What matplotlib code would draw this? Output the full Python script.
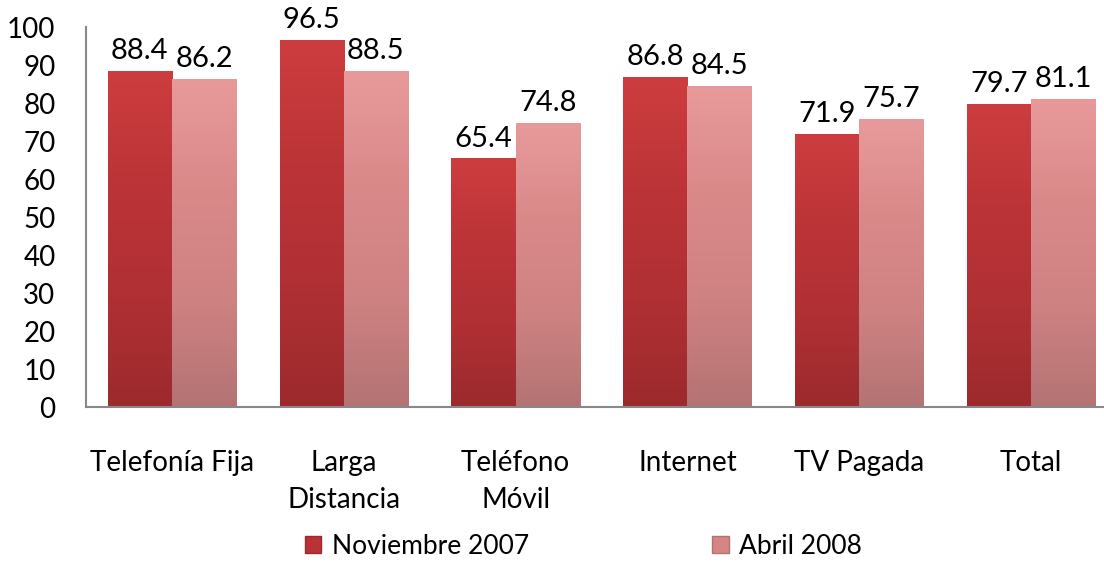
import matplotlib
matplotlib.use("Agg")
import matplotlib.pyplot as plt
import numpy as np
from matplotlib.colors import LinearSegmentedColormap
from matplotlib.patches import Patch

categories = ["Telefonía Fija", "Larga\nDistancia", "Teléfono\nMóvil", "Internet", "TV Pagada", "Total"]
nov_2007 = [88.4, 96.5, 65.4, 86.8, 71.9, 79.7]
abr_2008 = [86.2, 88.5, 74.8, 84.5, 75.7, 81.1]
series_names = ["Noviembre 2007", "Abril 2008"]
yticks = [0, 10, 20, 30, 40, 50, 60, 70, 80, 90, 100]

plt.rcParams['font.family'] = ['Lato', 'DejaVu Sans']

fig = plt.figure(figsize=(11.04, 5.76), dpi=100)
ax = fig.add_axes([86/1104, 1 - 407/576, (1117-86)/1104, (407-27)/576])

x = np.arange(len(categories))
w = 0.373
dark_cmap = LinearSegmentedColormap.from_list("d", ["#CD3D3F", "#BC3437", "#B03034", "#9C2A2D"])
light_cmap = LinearSegmentedColormap.from_list("l", ["#E89A9A", "#DA8989", "#CF8282", "#B47373"])

bars1 = ax.bar(x - w/2, nov_2007, w, color="#B83236", edgecolor="none", label=series_names[0])
bars2 = ax.bar(x + w/2, abr_2008, w, color="#D68585", edgecolor="none", label=series_names[1])

grad = np.linspace(0, 1, 256).reshape(-1, 1)
for bars, cmap in ((bars1, dark_cmap), (bars2, light_cmap)):
    for b in bars:
        x0, y0 = b.get_x(), b.get_y()
        bw, bh = b.get_width(), b.get_height()
        im = ax.imshow(grad, cmap=cmap, aspect="auto",
                       extent=[x0, x0 + bw, y0, y0 + bh], origin="upper", zorder=2)
        im.set_clip_path(b)
    for b in bars:
        ax.annotate(f"{b.get_height():.1f}", (b.get_x() + b.get_width()/2, b.get_height()),
                    xytext=(0, 5), textcoords="offset points", ha="center", va="bottom",
                    fontsize=21, color="black")

ax.set_xlim(-0.5, len(categories) - 0.5)
ax.set_ylim(0, 100)
ax.set_yticks(yticks)
ax.set_xticks(x)
ax.set_xticklabels(categories, fontsize=20, linespacing=1.5)
ax.tick_params(axis="y", length=0, pad=22, labelsize=20)
ax.tick_params(axis="x", length=0, pad=31)
for s in ("top", "right"):
    ax.spines[s].set_visible(False)
for s in ("left", "bottom"):
    ax.spines[s].set_color("#888888")
    ax.spines[s].set_linewidth(1.5)

handles = [Patch(facecolor="#B83236", edgecolor="#9A2A2C"), Patch(facecolor="#D68585", edgecolor="#B27272")]
fig.legend(handles, series_names, loc="center left", bbox_to_anchor=(305/1104, 1 - 546/576),
           ncol=2, frameon=False, fontsize=19, handlelength=0.62, handleheight=0.62,
           handletextpad=0.4, columnspacing=6.95, borderaxespad=0, borderpad=0)

fig.savefig("out.png", dpi=100)
